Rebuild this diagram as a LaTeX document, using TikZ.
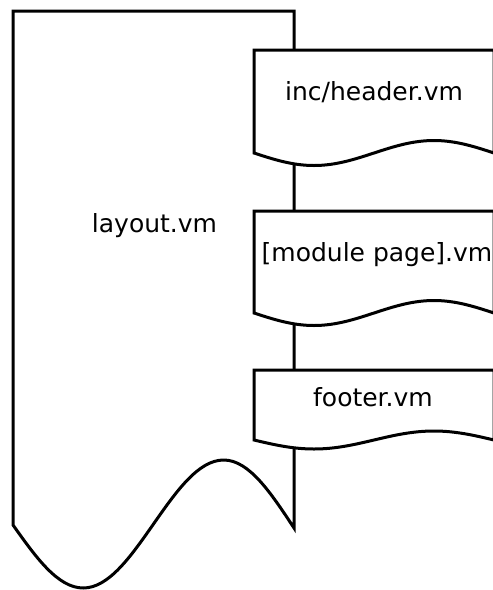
\documentclass[tikz,border=0pt]{standalone}
\usepackage{fontspec}
\setmainfont{DejaVu Sans}
\usetikzlibrary{calc}
\tikzstyle{label} = [align=center, anchor=base, inner sep=0pt, font=\fontsize{25}{30}\selectfont]
\tikzstyle{page} = [draw=black, fill=white, line width=3pt, line join=miter]

\begin{document}
\begin{tikzpicture}[x=1pt, y=-1pt]
				\useasboundingbox (0,0) rectangle (493,590);
				% layout.vm page
				\draw [page] (13,525) -- (13,11) -- (294,11) -- (294,528)
					sin (223.75,460) cos (153.5,524) sin (83.25,588) cos (13,525) -- cycle;
				\node (layout) [label] at (154.5,232) {layout.vm};
				% inc/header.vm page
				\draw [page] (254,153) -- (254,50) -- (494,50) -- (494,153)
					sin (434,140.5) cos (374,153) sin (314,165.5) cos (254,153) -- cycle;
				\node (header) [label] at (374,100) {inc/header.vm};
				% [module page].vm page
				\draw [page] (254,313) -- (254,211) -- (494,211) -- (494,313)
					sin (434,300.5) cos (374,313) sin (314,325.5) cos (254,313) -- cycle;
				\node (module) [label] at (377,261) {[module page].vm};
				% footer.vm page
				\draw [page] (254,440) -- (254,370) -- (494,370) -- (494,440)
					sin (434,431) cos (374,440) sin (314,449) cos (254,440) -- cycle;
				\node (footer) [label] at (373,406) {footer.vm};
			\end{tikzpicture}
\end{document}
